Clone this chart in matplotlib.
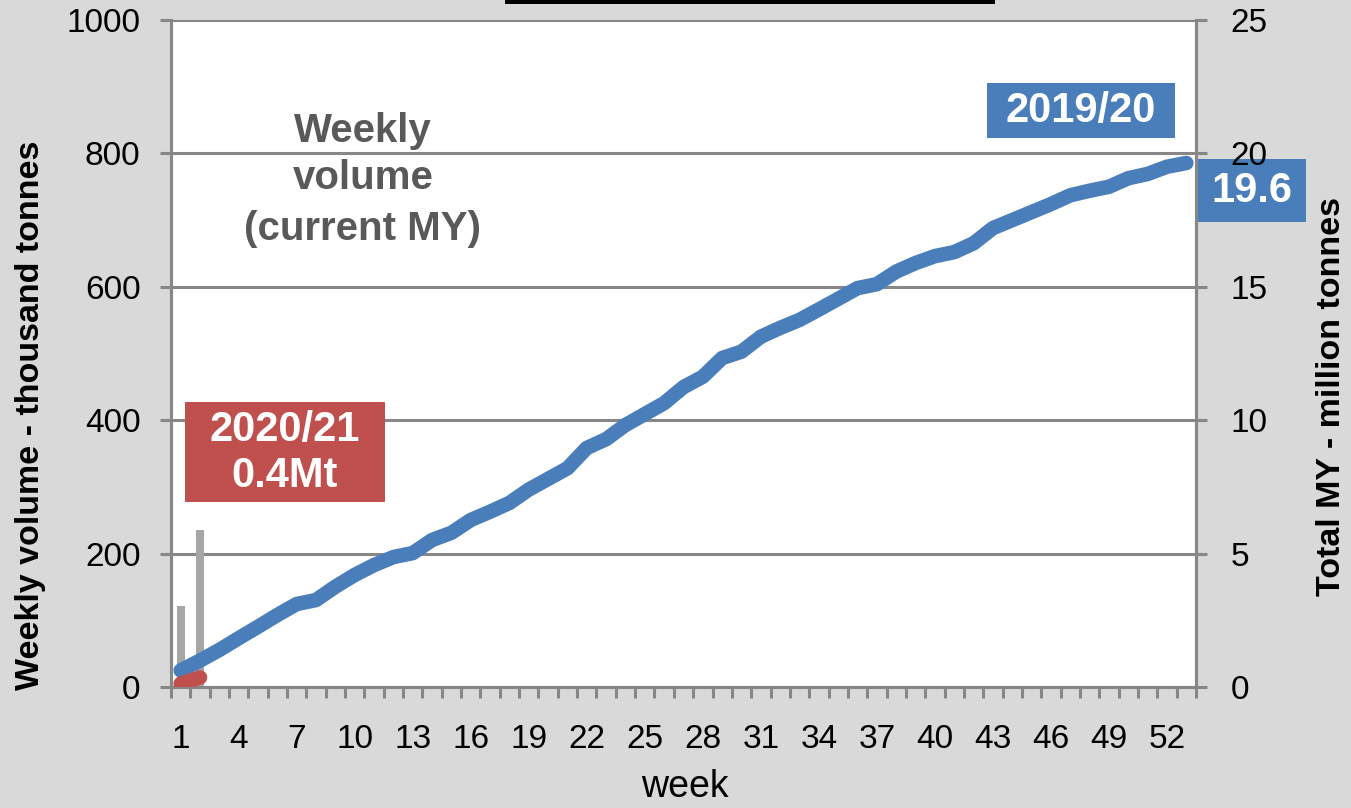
import matplotlib
matplotlib.use("Agg")
import matplotlib.pyplot as plt
from matplotlib.patches import Rectangle
import numpy as np

plt.rcParams['font.family'] = ['Liberation Sans', 'DejaVu Sans']

# Weeks of the marketing year
weeks = list(range(1, 54))

# 2019/20 cumulative volume, million tonnes
total_2019 = [0.62, 0.99, 1.39, 1.83, 2.26, 2.70, 3.11, 3.26, 3.76, 4.20,
              4.57, 4.87, 5.02, 5.51, 5.78, 6.26, 6.57, 6.90, 7.40, 7.80,
              8.20, 8.96, 9.29, 9.82, 10.23, 10.64, 11.24, 11.63, 12.33, 12.57,
              13.13, 13.46, 13.76, 14.15, 14.55, 14.95, 15.10, 15.57, 15.89, 16.15,
              16.30, 16.63, 17.20, 17.50, 17.80, 18.10, 18.43, 18.60, 18.75, 19.07,
              19.23, 19.50, 19.64]

# 2020/21 weekly volume, thousand tonnes
weeks_2020 = [1, 2]
weekly_2020 = [122, 235]
total_2020 = list(np.cumsum(weekly_2020) / 1000.0)

x_labels = [str(w) for w in range(1, 54, 3)]

BG = '#d9d9d9'
GRID = '#878787'
BLUE = '#4a7ebb'
RED = '#c0504d'
BAR = '#a6a6a6'

fig = plt.figure(figsize=(13.51, 8.08), dpi=100, facecolor=BG)
ax = fig.add_axes([171 / 1351, 1 - 687 / 808, 1025 / 1351, 667 / 808])
ax.set_facecolor('white')
ax2 = ax.twinx()

# weekly bars on the left axis
ax.bar(weeks_2020, weekly_2020, width=0.4, color=BAR, zorder=2)
ax.set_ylim(0, 1000)
ax.set_xlim(0.5, 53.5)
ax.set_yticks([0, 200, 400, 600, 800, 1000])
ax.yaxis.grid(True, color=GRID, linewidth=2.2, zorder=1)
ax.set_axisbelow(True)

# cumulative totals on the right axis
ax2.plot(weeks, total_2019, color=BLUE, linewidth=10.5, solid_capstyle='round',
         solid_joinstyle='round', zorder=3)
ax2.plot(weeks_2020, total_2020, color=RED, linewidth=10.5, solid_capstyle='round',
         zorder=4)
ax2.set_ylim(0, 25)
ax2.set_yticks([0, 5, 10, 15, 20, 25])

# x axis: labels every third week, tick marks at week boundaries
ax.set_xticks(range(1, 54, 3))
ax.set_xticklabels(x_labels)
ax.set_xticks(np.arange(0.5, 54, 1), minor=True)
ax.tick_params(axis='x', which='major', length=0, pad=27, labelsize=24)
ax.tick_params(axis='x', which='minor', length=8, width=2.2, color=GRID)
ax.tick_params(axis='y', length=8, width=2.2, color=GRID, pad=14, labelsize=24)
ax2.tick_params(axis='y', length=8, width=2.2, color=GRID, pad=17, labelsize=24)

for a in (ax, ax2):
    a.spines['top'].set_visible(False)
    for side in ('left', 'right', 'bottom'):
        a.spines[side].set_color(GRID)
        a.spines[side].set_linewidth(2.2)

fig.text(685 / 1351, 1 - 787 / 808, 'week', ha='center', va='center', fontsize=27)
fig.text(31 / 1351, 1 - 415 / 808, 'Weekly volume - thousand tonnes', rotation=90,
         ha='center', va='center', fontsize=24.5, fontweight='bold')
fig.text(1332 / 1351, 1 - 397 / 808, 'Total MY - million tonnes', rotation=90,
         ha='center', va='center', fontsize=24.5, fontweight='bold')

# caption inside the plot area
for txt, py in [('Weekly', 142), ('volume', 189), ('(current MY)', 240)]:
    fig.text(363 / 1351, 1 - py / 808, txt, ha='center', va='baseline',
             fontsize=29, fontweight='bold', color='#595959')


def label_box(x0, x1, y0, y1, color, lines):
    ax.add_patch(Rectangle((x0, y0), x1 - x0, y1 - y0, transform=ax.transAxes,
                           facecolor=color, edgecolor='none', clip_on=False, zorder=6))
    for txt, yc in lines:
        ax.text((x0 + x1) / 2, yc, txt, transform=ax.transAxes, ha='center',
                va='center', color='white', fontsize=30, fontweight='bold', zorder=7)


def fx(px):
    return (px - 171) / 1025


def fy(py):
    return (687 - py) / 667


label_box(fx(987), fx(1175), fy(138), fy(83), BLUE, [('2019/20', fy(111))])
label_box(fx(1197), fx(1306), fy(222), fy(159), BLUE,
          [(f'{total_2019[-1]:.1f}', fy(191))])
label_box(fx(185), fx(385), fy(502), fy(402), RED,
          [('2020/21', fy(430)), (f'{sum(weekly_2020) / 1000:.1f}Mt', fy(476))])

# bottom edge of the title frame above the chart
fig.patches.append(Rectangle((505 / 1351, 1 - 4 / 808), 490 / 1351, 4 / 808,
                             transform=fig.transFigure, facecolor='black',
                             edgecolor='none'))

fig.savefig('out.png', dpi=100, facecolor=BG)
